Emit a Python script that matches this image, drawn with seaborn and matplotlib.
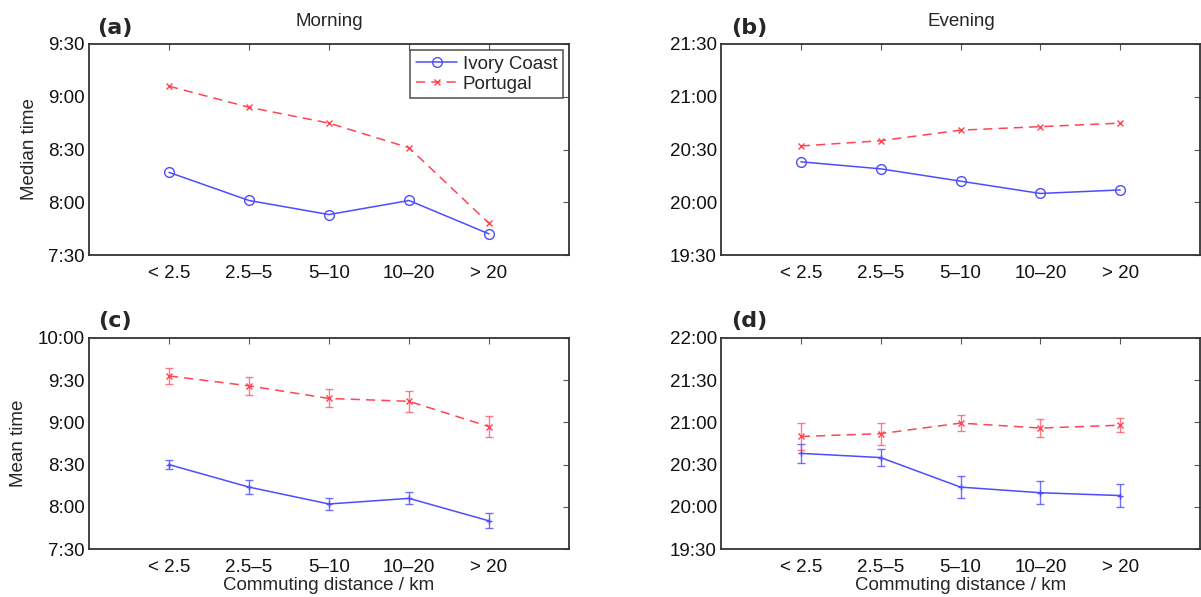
import numpy as np
import matplotlib
matplotlib.use("Agg")
import matplotlib.pyplot as plt
from matplotlib.ticker import FuncFormatter
import seaborn as sns

# ---------------- data (minutes after midnight) ----------------
categories = ["< 2.5", "2.5\u20135", "5\u201310", "10\u201320", "> 20"]
series_names = ["Ivory Coast", "Portugal"]

median_morning_ic = [497, 481, 473, 481, 462]
median_morning_pt = [546, 534, 525, 511, 468]
median_evening_ic = [1223, 1219, 1212, 1205, 1207]
median_evening_pt = [1232, 1235, 1241, 1243, 1245]

mean_morning_ic = [510, 494, 482, 486, 470]
mean_morning_ic_err = [3.3, 5.0, 4.2, 4.3, 5.3]
mean_morning_pt = [573, 566, 557, 555, 537]
mean_morning_pt_err = [5.5, 6.3, 6.4, 7.6, 7.4]

mean_evening_ic = [1238, 1235, 1214, 1210, 1208]
mean_evening_ic_err = [6.6, 6.3, 7.6, 8.3, 8.3]
mean_evening_pt = [1250, 1252, 1259.5, 1256, 1258]
mean_evening_pt_err = [9.6, 7.8, 5.9, 6.5, 4.9]

yticks_a = [450, 480, 510, 540, 570]
yticks_b = [1170, 1200, 1230, 1260, 1290]
yticks_c = [450, 480, 510, 540, 570, 600]
yticks_d = [1170, 1200, 1230, 1260, 1290, 1320]

# ---------------- style ----------------
sns.set_style("white")
plt.rcParams["font.family"] = ["Liberation Sans", "DejaVu Sans"]
FS = 13.5
BLUE = "#4d4dff"
RED = "#ff4455"

W, H = 1201, 597
fig = plt.figure(figsize=(W / 100, H / 100), dpi=100)

def px_axes(l, t, r, b):
    return fig.add_axes([l / W, 1 - b / H, (r - l) / W, (b - t) / H])

ax_a = px_axes(89, 44, 569, 255)
ax_b = px_axes(721, 44, 1200, 255)
ax_c = px_axes(89, 338, 569, 549)
ax_d = px_axes(721, 338, 1200, 549)

pos = np.arange(len(categories))
fmt = FuncFormatter(lambda v, p: f"{int(v) // 60}:{int(v) % 60:02d}")

def draw(ax, ic, pt, yticks, ic_err=None, pt_err=None, legend=False):
    if ic_err is not None:
        ax.errorbar(pos, ic, yerr=ic_err, fmt="none", ecolor=BLUE,
                    elinewidth=1.0, capsize=3, capthick=1.0, alpha=0.8, zorder=2)
        ax.errorbar(pos, pt, yerr=pt_err, fmt="none", ecolor=RED,
                    elinewidth=1.0, capsize=3, capthick=1.0, alpha=0.7, zorder=2)
        mk_ic, mk_pt = "+", "x"
        ms_ic, ms_pt = 4, 4
    else:
        mk_ic, mk_pt = "o", "x"
        ms_ic, ms_pt = 7, 5
    sns.lineplot(x=pos, y=ic, ax=ax, color=BLUE, lw=1.1, marker=mk_ic,
                 markersize=ms_ic, markerfacecolor="none", markeredgecolor=BLUE,
                 markeredgewidth=1.0, label=series_names[0], legend=False, zorder=3)
    sns.lineplot(x=pos, y=pt, ax=ax, color=RED, lw=1.1, marker=mk_pt,
                 markersize=ms_pt, markeredgecolor=RED, markeredgewidth=1.0,
                 dashes=False, linestyle=(0, (6, 4)), label=series_names[1],
                 legend=False, zorder=3)
    ax.set_xlim(-1, 5)
    ax.set_ylim(yticks[0], yticks[-1])
    ax.set_xticks(pos)
    ax.set_xticklabels(categories)
    ax.set_yticks(yticks)
    ax.yaxis.set_major_formatter(fmt)
    ax.tick_params(axis="both", direction="in", top=True, right=True,
                   length=4, width=0.8, color="#555555", labelsize=FS,
                   labelcolor="#111111")
    ax.tick_params(axis="x", pad=7)
    ax.tick_params(axis="y", pad=3)
    for s in ax.spines.values():
        s.set_visible(True)
        s.set_color("#333333")
        s.set_linewidth(1.3)
    ax.set_xlabel("")
    ax.set_ylabel("")
    if legend:
        leg = ax.legend(loc="upper right", bbox_to_anchor=((563 - 89) / 480, (255 - 50) / 211),
                        borderaxespad=0, fontsize=FS, frameon=True, fancybox=False,
                        edgecolor="#333333", handlelength=2.2, handletextpad=0.3,
                        borderpad=0.3, labelspacing=0.15)
        leg.get_frame().set_linewidth(1.2)

draw(ax_a, median_morning_ic, median_morning_pt, yticks_a, legend=True)
draw(ax_b, median_evening_ic, median_evening_pt, yticks_b)
draw(ax_c, mean_morning_ic, mean_morning_pt, yticks_c, mean_morning_ic_err, mean_morning_pt_err)
draw(ax_d, mean_evening_ic, mean_evening_pt, yticks_d, mean_evening_ic_err, mean_evening_pt_err)

ax_a.set_ylabel("Median time", fontsize=FS, va="center")
ax_a.yaxis.set_label_coords((30 - 89) / 480, 0.5)
ax_c.set_ylabel("Mean time", fontsize=FS, va="center")
ax_c.yaxis.set_label_coords((19 - 89) / 480, 0.5)
for ax in (ax_c, ax_d):
    ax.set_xlabel("Commuting distance / km", fontsize=FS)
    ax.xaxis.set_label_coords(0.5, -(586 - 549) / 211)
    ax.xaxis.label.set_va("center")

fig.text(329 / W, 1 - 22 / H, "Morning", ha="center", va="center", fontsize=FS)
fig.text(961 / W, 1 - 22 / H, "Evening", ha="center", va="center", fontsize=FS)

for lab, x, y in [("(a)", 115, 28), ("(b)", 749, 28), ("(c)", 115, 321), ("(d)", 749, 321)]:
    fig.text(x / W, 1 - y / H, lab, ha="center", va="center", fontsize=16,
             fontweight="bold", family=["DejaVu Sans"])

fig.savefig("out.png", dpi=100)
